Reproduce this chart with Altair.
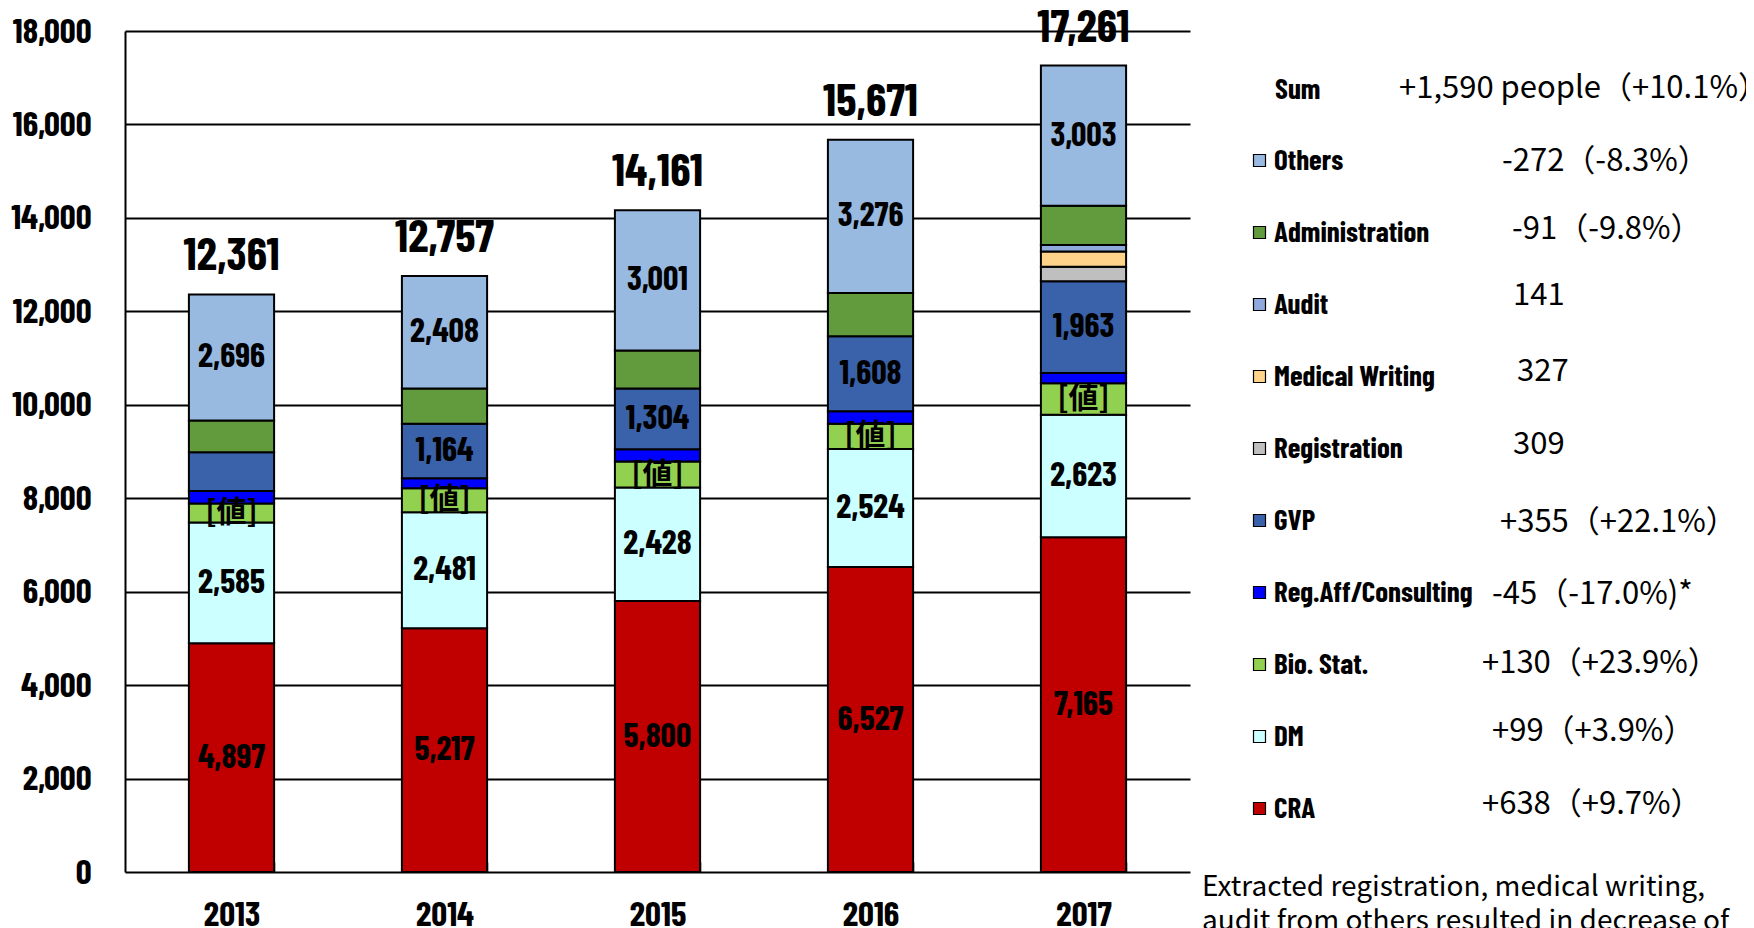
import altair as alt
import pandas as pd

# ---------------- data ----------------
years = ["2013", "2014", "2015", "2016", "2017"]
categories = ["CRA", "DM", "Bio. Stat.", "Reg.Aff/Consulting", "GVP",
              "Registration", "Medical Writing", "Audit", "Administration", "Others"]
cra = [4897, 5217, 5800, 6527, 7165]
dm = [2585, 2481, 2428, 2524, 2623]
bio_stat = [405, 515, 556, 544, 674]
reg_aff = [265, 217, 263, 265, 220]
gvp = [830, 1164, 1304, 1608, 1963]
registration = [0, 0, 0, 0, 309]
medical_writing = [0, 0, 0, 0, 327]
audit = [0, 0, 0, 0, 141]
administration = [683, 755, 809, 927, 836]
others = [2696, 2408, 3001, 3276, 3003]
totals = [12361, 12757, 14161, 15671, 17261]

value_labelled = {"CRA": [1, 1, 1, 1, 1], "DM": [1, 1, 1, 1, 1],
                  "GVP": [0, 1, 1, 1, 1], "Others": [1, 1, 1, 1, 1]}
placeholder_labelled = {"Bio. Stat.": [1, 1, 1, 1, 1]}
placeholder_text = "[値]"

sum_label = "Sum"
sum_change = "+1,590 people（+10.1%）"
change_texts = ["-272（-8.3%）", "-91（-9.8%）", "141", "327", "309",
                "+355（+22.1%）", "-45（-17.0%)*", "+130（+23.9%）",
                "+99（+3.9%）", "+638（+9.7%）"]
footnote_lines = ["Extracted registration, medical writing,",
                  "audit from others resulted in decrease of"]

colors = {"CRA": "#C00000", "DM": "#CCFFFF", "Bio. Stat.": "#92D050",
          "Reg.Aff/Consulting": "#0000FF", "GVP": "#3A62AA",
          "Registration": "#BFBFBF", "Medical Writing": "#FFD38A",
          "Audit": "#8EA9DB", "Administration": "#629A3E", "Others": "#98B9E0"}

series = [cra, dm, bio_stat, reg_aff, gvp, registration, medical_writing,
          audit, administration, others]

rows = []
for ci, (cat, vals) in enumerate(zip(categories, series)):
    for yi, (yr, v) in enumerate(zip(years, vals)):
        if v <= 0:
            continue
        label = ""
        kind = ""
        if cat in value_labelled and value_labelled[cat][yi]:
            label = f"{v:,}"
            kind = "num"
        elif cat in placeholder_labelled and placeholder_labelled[cat][yi]:
            label = placeholder_text
            kind = "ph"
        rows.append({"year": yr, "category": cat, "value": v, "order": ci,
                     "label": label, "kind": kind})
df = pd.DataFrame(rows)
df_tot = pd.DataFrame({"year": years, "total": totals,
                       "label": [f"{t:,}" for t in totals]})

legend_order = categories[::-1]
legend_colors = [colors[c] for c in legend_order]

NARROW = "Barlow Condensed, Archivo Narrow, Liberation Sans Narrow, sans-serif"
GOTHIC = "Noto Sans CJK JP, Noto Sans, sans-serif"

W, H = 1065, 841
x_scale = alt.Scale(paddingInner=0.6, paddingOuter=0.3)
y_scale = alt.Scale(domain=[0, 18000])

base = alt.Chart(df)

bars = base.mark_bar(stroke="black", strokeWidth=2).encode(
    x=alt.X("year:N", scale=x_scale, sort=years,
            axis=alt.Axis(title=None, labelAngle=0, labelFont=NARROW, labelFontSize=35,
                          labelFontWeight="bold", labelColor="black", domain=False,
                          ticks=True, tickBand="extent", tickSize=10, tickColor="black",
                          tickWidth=1.5, offset=-10, labelPadding=25)),
    y=alt.Y("value:Q", stack="zero", scale=y_scale,
            axis=alt.Axis(title=None, values=list(range(0, 18001, 2000)), format=",.0f",
                          labelFont=NARROW, labelFontSize=35, labelFontWeight="bold",
                          labelColor="black", labelPadding=34, ticks=False,
                          domain=True, domainColor="black", domainWidth=2,
                          grid=True, gridColor="black", gridWidth=2, gridOpacity=1)),
    color=alt.Color("category:N",
                    scale=alt.Scale(domain=legend_order, range=legend_colors),
                    legend=alt.Legend(title=None, orient="none", legendX=1120, legendY=115,
                                      symbolType="square", symbolSize=144,
                                      symbolStrokeColor="black", symbolStrokeWidth=1.2,
                                      symbolOpacity=1, labelFont=NARROW, labelFontSize=29,
                                      labelFontWeight="bold", labelColor="black",
                                      labelLimit=400, labelOffset=0, rowPadding=42,
                                      padding=0)),
    order=alt.Order("order:Q", sort="ascending"),
)

stacked = base.transform_stack(
    stack="value", groupby=["year"], as_=["v0", "v1"],
    sort=[alt.SortField("order", "ascending")]
).transform_calculate(mid="(datum.v0 + datum.v1) / 2")

num_labels = stacked.transform_filter("datum.kind == 'num'").mark_text(
    font=NARROW, fontSize=34, fontWeight="bold", color="black", baseline="middle"
).encode(x=alt.X("year:N", sort=years), y=alt.Y("mid:Q"), text="label:N")

ph_labels = stacked.transform_filter("datum.kind == 'ph'").mark_text(
    font=GOTHIC, fontSize=30, fontWeight="bold", color="black", baseline="middle"
).encode(x=alt.X("year:N", sort=years), y=alt.Y("mid:Q"), text="label:N")

total_labels = alt.Chart(df_tot).mark_text(
    font=NARROW, fontSize=46, fontWeight="bold", color="black",
    baseline="alphabetic", dy=-24
).encode(x=alt.X("year:N", sort=years), y=alt.Y("total:Q"), text="label:N")

ann_layers = []
ann_layers.append(alt.Chart(pd.DataFrame({"t": [sum_label]})).mark_text(
    font=NARROW, fontSize=29, fontWeight="bold", color="black", align="left",
    baseline="middle").encode(x=alt.value(1150), y=alt.value(59), text="t:N"))
ann_layers.append(alt.Chart(pd.DataFrame({"t": [sum_change]})).mark_text(
    font=GOTHIC, fontSize=31, color="black", align="left",
    baseline="middle").encode(x=alt.value(1274), y=alt.value(58), text="t:N"))
change_x = [1377, 1387, 1388, 1392, 1388, 1375, 1367, 1357, 1367, 1357]
change_y = [131, 199, 265, 341, 414, 492, 564, 633, 701, 774]
for txt, px, py in zip(change_texts, change_x, change_y):
    ann_layers.append(alt.Chart(pd.DataFrame({"t": [txt]})).mark_text(
        font=GOTHIC, fontSize=31, color="black", align="left",
        baseline="middle").encode(x=alt.value(px), y=alt.value(py), text="t:N"))
for i, line in enumerate(footnote_lines):
    ann_layers.append(alt.Chart(pd.DataFrame({"t": [line]})).mark_text(
        font=GOTHIC, fontSize=28, color="black", align="left",
        baseline="middle").encode(x=alt.value(1077), y=alt.value(857 + 34 * i), text="t:N"))

chart = alt.layer(bars, num_labels, ph_labels, total_labels, *ann_layers).properties(
    width=W, height=H,
    autosize=alt.AutoSizeParams(type="none"),
    padding={"left": 117, "top": 23, "right": 556, "bottom": 70},
    background="white",
).configure_view(strokeWidth=0)

chart.save("out.html", embed_options={"renderer": "svg", "actions": False})
